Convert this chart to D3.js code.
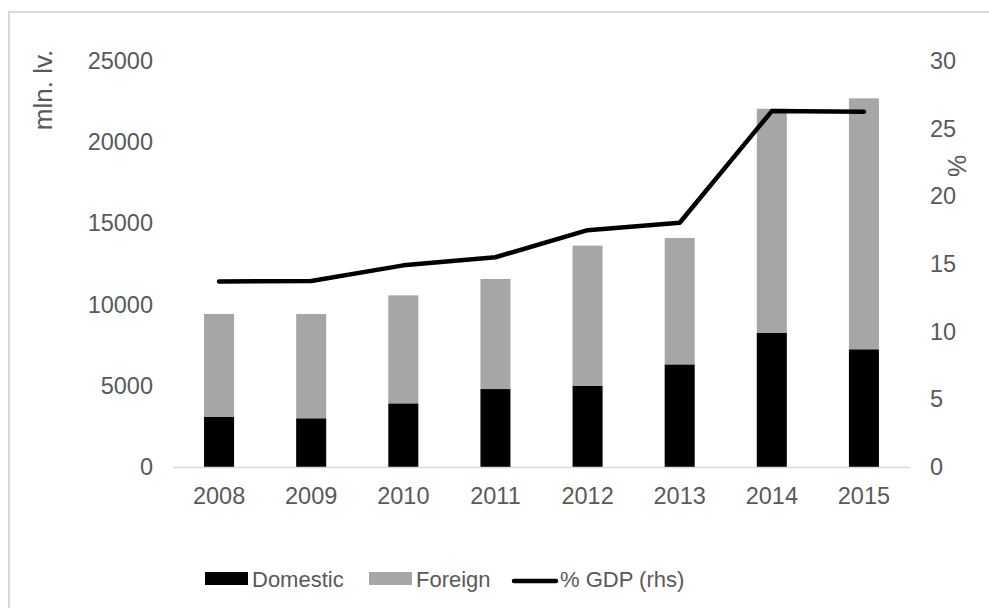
<!DOCTYPE html>
<meta charset="utf-8">
<style>
    body { margin: 0; background: #fff; }
    text { font-family: "Liberation Sans", Arial, sans-serif; fill: #595959; }
</style>
<svg width="989" height="608" class="chart"></svg>
<script src="https://cdn.jsdelivr.net/npm/d3@7/dist/d3.min.js"></script>
<script>

var years = ['2008', '2009', '2010', '2011', '2012', '2013', '2014', '2015'];
var domestic = [3080, 3000, 3920, 4800, 4990, 6320, 8270, 7250];
var foreign = [6340, 6420, 6650, 6780, 8640, 7780, 13790, 15450];
var gdpShare = [13.7, 13.75, 14.9, 15.5, 17.5, 18.05, 26.3, 26.25];
var leftTicks = [0, 5000, 10000, 15000, 20000, 25000];
var rightTicks = [0, 5, 10, 15, 20, 25, 30];

var svg = d3.select('svg.chart');

// outer frame (right and bottom edges fall outside the picture)
svg.append('rect')
    .attr('x', 9).attr('y', 12)
    .attr('width', 1000).attr('height', 620)
    .attr('fill', 'none')
    .attr('stroke', '#d9d9d9')
    .attr('stroke-width', 2);

var plot = {left: 173, right: 910, top: 61, bottom: 467};

var x = d3.scaleBand()
    .domain(years)
    .range([plot.left, plot.right])
    .paddingInner(0.674)
    .paddingOuter(0.337);

var y = d3.scaleLinear()
    .domain([0, 25000])
    .range([plot.bottom, plot.top]);

var y2 = d3.scaleLinear()
    .domain([0, 30])
    .range([plot.bottom, plot.top]);

var rows = years.map(function(yr, i){
    return {year: yr, domestic: domestic[i], foreign: foreign[i]};
});

var stack = d3.stack().keys(['domestic', 'foreign'])(rows);
var colors = {domestic: '#000000', foreign: '#a6a6a6'};

svg.append('g').selectAll('g')
    .data(stack)
    .enter().append('g')
        .attr('fill', function(d){ return colors[d.key]; })
    .selectAll('rect')
    .data(function(d){ return d; })
    .enter().append('rect')
        .attr('x', function(d){ return x(d.data.year); })
        .attr('width', x.bandwidth())
        .attr('y', function(d){ return y(d[1]); })
        .attr('height', function(d){ return y(d[0]) - y(d[1]); });

// baseline
svg.append('line')
    .attr('x1', plot.left).attr('x2', plot.right)
    .attr('y1', plot.bottom + 0.5).attr('y2', plot.bottom + 0.5)
    .attr('stroke', '#d9d9d9')
    .attr('stroke-width', 1.5);

var line = d3.line()
    .x(function(d, i){ return x(years[i]) + x.bandwidth() / 2; })
    .y(function(d){ return y2(d); });

svg.append('path')
    .datum(gdpShare)
    .attr('fill', 'none')
    .attr('stroke', '#000')
    .attr('stroke-width', 4.5)
    .attr('stroke-linejoin', 'round')
    .attr('stroke-linecap', 'round')
    .attr('d', line);

function cleanAxis(g, size) {
    g.select('.domain').remove();
    g.selectAll('line').remove();
    g.selectAll('text')
        .style('font-size', size + 'px')
        .attr('fill', '#595959');
}

svg.append('g')
    .attr('transform', 'translate(' + plot.left + ',0)')
    .call(d3.axisLeft(y).tickValues(leftTicks).tickSize(0).tickPadding(20).tickFormat(d3.format('d')))
    .call(cleanAxis, 23.5);

svg.append('g')
    .attr('transform', 'translate(' + plot.right + ',0)')
    .call(d3.axisRight(y2).tickValues(rightTicks).tickSize(0).tickPadding(20))
    .call(cleanAxis, 23.5);

svg.append('g')
    .attr('transform', 'translate(0,' + plot.bottom + ')')
    .call(d3.axisBottom(x).tickSize(0).tickPadding(20))
    .call(cleanAxis, 23.5);

svg.append('text')
    .attr('transform', 'translate(52,90) rotate(-90)')
    .attr('text-anchor', 'middle')
    .style('font-size', '26px')
    .text('mln. lv.');

svg.append('text')
    .attr('transform', 'translate(966,166) rotate(-90)')
    .attr('text-anchor', 'middle')
    .style('font-size', '25px')
    .text('%');

// legend
var legend = [
    {label: 'Domestic', type: 'rect', color: colors.domestic, x: 205},
    {label: 'Foreign', type: 'rect', color: colors.foreign, x: 369},
    {label: '% GDP (rhs)', type: 'line', color: '#000', x: 513}
];

var lg = svg.append('g').selectAll('g')
    .data(legend)
    .enter().append('g')
    .attr('transform', function(d){ return 'translate(' + d.x + ',0)'; });

lg.filter(function(d){ return d.type === 'rect'; })
    .append('rect')
    .attr('y', 572).attr('width', 43).attr('height', 13)
    .attr('fill', function(d){ return d.color; });

lg.filter(function(d){ return d.type === 'line'; })
    .append('line')
    .attr('x1', 1).attr('x2', 43)
    .attr('y1', 581).attr('y2', 581)
    .attr('stroke', function(d){ return d.color; })
    .attr('stroke-width', 4.5)
    .attr('stroke-linecap', 'round');

lg.append('text')
    .attr('x', 47)
    .attr('y', 587)
    .style('font-size', '22px')
    .text(function(d){ return d.label; });

</script>
